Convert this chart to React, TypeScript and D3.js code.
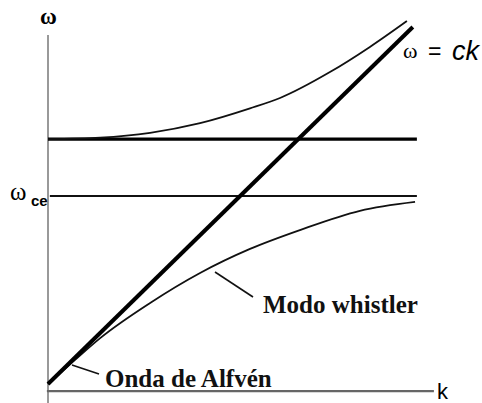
import React from "react";
import * as d3 from "d3";

// Data (k, ω in arbitrary units)
const upperK = [0, 1.41, 2.76, 4.11, 5.46, 6.27, 7.62, 8.7, 9.7];
const upperW = [6.62, 6.66, 6.79, 7.05, 7.45, 7.73, 8.43, 9.11, 9.81];
const whistK = [0, 0.73, 1.41, 2.76, 4.11, 5.46, 6.81, 8.43, 9.92];
const whistW = [0, 0.65, 1.24, 2.19, 3.0, 3.65, 4.16, 4.68, 4.92];
const lightK = [0, 9.86];
const lightW = [0, 9.65];
const upperCutoff = 6.62;
const omegaCe = 5.08;
const hLineEnd = 9.97;

const W = 482;
const H = 403;

export default function App() {
  const x = d3.scaleLinear().domain([0, 10]).range([48, 418]);
  const y = d3.scaleLinear().domain([0, 10]).range([384, 14]);
  const line = d3
    .line<[number, number]>()
    .x((d) => x(d[0]))
    .y((d) => y(d[1]))
    .curve(d3.curveMonotoneX);
  const upper = upperK.map((k, i) => [k, upperW[i]] as [number, number]);
  const whist = whistK.map((k, i) => [k, whistW[i]] as [number, number]);
  const light = lightK.map((k, i) => [k, lightW[i]] as [number, number]);
  const axisW = -0.19;
  return (
    <svg
      width={W}
      height={H}
      style={{ position: "absolute", left: 0, top: 0, background: "#fff" }}
    >
      {/* axes */}
      <line x1={x(0)} x2={x(0)} y1={y(9.43)} y2={H} stroke="#777" strokeWidth={1.5} />
      <line x1={x(-0.03)} x2={x(10.43)} y1={y(axisW)} y2={y(axisW)} stroke="#666" strokeWidth={2.2} />
      {/* horizontal lines */}
      <line x1={x(0)} x2={x(hLineEnd)} y1={y(upperCutoff)} y2={y(upperCutoff)} stroke="#000" strokeWidth={3.2} />
      <line x1={x(0.05)} x2={x(hLineEnd)} y1={y(omegaCe)} y2={y(omegaCe)} stroke="#111" strokeWidth={2} />
      {/* curves */}
      <path d={line(upper) || ""} fill="none" stroke="#111" strokeWidth={1.8} />
      <path d={line(whist) || ""} fill="none" stroke="#111" strokeWidth={1.8} />
      <path d={line(light) || ""} fill="none" stroke="#000" strokeWidth={4} />
      {/* pointers */}
      <line x1={72} y1={365} x2={99} y2={374} stroke="#111" strokeWidth={1.6} />
      <line x1={215} y1={272} x2={253} y2={297} stroke="#111" strokeWidth={1.6} />
      {/* labels */}
      <text x={48.5} y={24} textAnchor="middle" fontFamily="Liberation Serif" fontWeight="bold" fontSize={23}>ω</text>
      <text x={10} y={200} fontFamily="Liberation Serif" fontSize={25}>ω</text>
      <text x={31} y={206} fontFamily="Liberation Sans" fontWeight="bold" fontSize={15}>ce</text>
      <text x={403} y={58} fontFamily="Liberation Serif" fontSize={22}>ω</text>
      <text x={428} y={59} fontFamily="Liberation Sans" fontSize={23}>=</text>
      <text x={452} y={60} fontFamily="Liberation Sans" fontStyle="italic" fontSize={27}>ck</text>
      <text x={437} y={399} fontFamily="Liberation Sans" fontSize={22}>k</text>
      <text x={105} y={387} fontFamily="Liberation Serif" fontWeight="bold" fontSize={25} fill="#111">Onda de Alfvén</text>
      <text x={263} y={313} fontFamily="Liberation Serif" fontWeight="bold" fontSize={25} fill="#111">Modo whistler</text>
    </svg>
  );
}
